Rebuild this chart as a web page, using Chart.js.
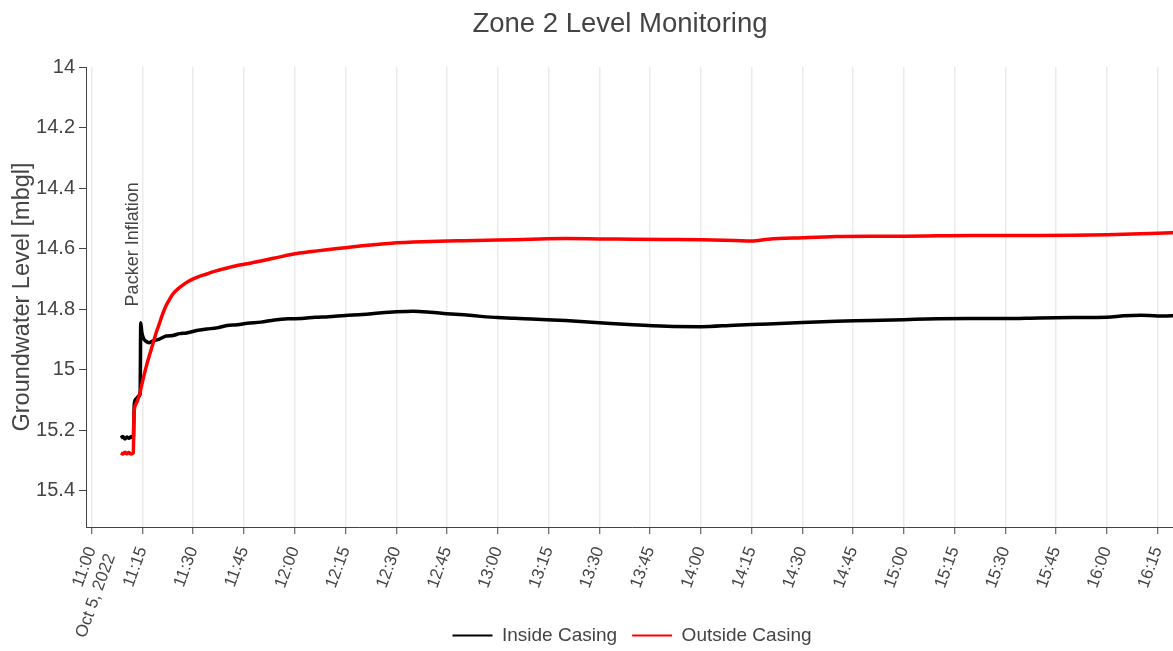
<!DOCTYPE html>
<html>
<head>
<meta charset="utf-8">
<script src="https://cdn.jsdelivr.net/npm/chart.js@4.4.1/dist/chart.umd.min.js"></script>
<style>
  html, body { margin: 0; padding: 0; background: #fff; overflow: hidden; }
  #wrap { width: 1173px; height: 651px; overflow: hidden; }
</style>
</head>
<body>
<div id="wrap"><canvas id="chart" width="1240" height="655"></canvas></div>
<script>
// time = minutes after 11:00 (Oct 5, 2022), level = mbgl
const insideTime = [8.6, 9.2, 9.8, 10.4, 11.0, 11.6, 12.3, 12.6, 13.2, 13.9, 14.3, 14.5, 14.8, 15.3, 16.0, 17.0, 18.0,
  20, 22, 24, 26, 28, 31, 34, 37, 40, 43, 46, 50, 54, 58, 62, 66, 70, 75, 80, 85, 90, 95, 100, 105, 110, 115, 120,
  125, 130, 140, 150, 160, 170, 180, 190, 200, 210, 220, 230, 240, 250, 260, 270, 280, 290, 300, 305, 310, 315, 321];
const insideLevel = [15.226, 15.221, 15.229, 15.223, 15.227, 15.222, 15.226, 15.112, 15.096, 15.087, 15.082, 14.845,
  14.876, 14.896, 14.906, 14.911, 14.906, 14.899, 14.889, 14.887, 14.881, 14.879, 14.871, 14.866, 14.862, 14.854,
  14.852, 14.847, 14.843, 14.836, 14.832, 14.831, 14.827, 14.825, 14.821, 14.818, 14.813, 14.809, 14.807, 14.810,
  14.815, 14.819, 14.824, 14.828, 14.830, 14.833, 14.838, 14.845, 14.852, 14.857, 14.858, 14.853, 14.849, 14.844,
  14.840, 14.838, 14.835, 14.832, 14.831, 14.831, 14.829, 14.828, 14.827, 14.822, 14.820, 14.823, 14.821];

const outsideTime = [8.6, 9.2, 9.8, 10.4, 11.0, 11.6, 12.3, 12.5, 12.9, 13.5, 14.3, 15.0, 16.0, 17.0, 18.0, 19.0, 20.0,
  21.0, 22.0, 23.0, 24.0, 25.5, 27.0, 28.5, 30.0, 32.0, 34.0, 36.0, 38.0, 40.0, 43.0, 46.0, 50.0, 55.0, 60.0, 65.0,
  70.0, 75.0, 80.0, 85.0, 90.0, 95.0, 100.0, 105.0, 110, 120, 130, 140, 150, 160, 170, 180, 190, 195, 200, 210, 220,
  230, 240, 250, 260, 270, 280, 290, 300, 310, 315, 321];
const outsideLevel = [15.276, 15.279, 15.273, 15.278, 15.274, 15.279, 15.275, 15.150, 15.118, 15.103, 15.075, 15.040,
  14.995, 14.955, 14.918, 14.880, 14.848, 14.815, 14.788, 14.768, 14.750, 14.733, 14.720, 14.709, 14.700, 14.691,
  14.684, 14.676, 14.670, 14.664, 14.656, 14.650, 14.641, 14.629, 14.617, 14.610, 14.603, 14.597, 14.591, 14.586,
  14.581, 14.578, 14.577, 14.575, 14.574, 14.572, 14.569, 14.567, 14.568, 14.569, 14.570, 14.571, 14.573, 14.575,
  14.569, 14.564, 14.560, 14.559, 14.559, 14.558, 14.557, 14.557, 14.557, 14.556, 14.554, 14.551, 14.549, 14.547];

const xTicks = [0, 15, 30, 45, 60, 75, 90, 105, 120, 135, 150, 165, 180, 195, 210, 225, 240, 255, 270, 285, 300, 315];
const xTickLabels = [['11:00', 'Oct 5, 2022'], '11:15', '11:30', '11:45', '12:00', '12:15', '12:30', '12:45',
  '13:00', '13:15', '13:30', '13:45', '14:00', '14:15', '14:30', '14:45', '15:00', '15:15', '15:30', '15:45',
  '16:00', '16:15'];
const yTicks = [14, 14.2, 14.4, 14.6, 14.8, 15, 15.2, 15.4];
const yTickLabels = ['14', '14.2', '14.4', '14.6', '14.8', '15', '15.2', '15.4'];

const annotText = 'Packer Inflation';
const annotX = 12.2;
const annotY = 14.791;

Chart.defaults.font.family = "'Liberation Sans', Arial, sans-serif";
Chart.defaults.color = '#444';

const annotPlugin = {
  id: 'annot',
  afterDatasetsDraw(chart) {
    const ctx = chart.ctx;
    const x = chart.scales.x.getPixelForValue(annotX);
    const y = chart.scales.y.getPixelForValue(annotY);
    ctx.save();
    ctx.translate(x, y);
    ctx.rotate(-Math.PI / 2);
    ctx.font = "18px 'Liberation Sans', Arial, sans-serif";
    ctx.fillStyle = '#444';
    ctx.textAlign = 'left';
    ctx.textBaseline = 'middle';
    ctx.fillText(annotText, 0, 0);
    ctx.restore();
  }
};

new Chart(document.getElementById('chart'), {
  type: 'line',
  plugins: [annotPlugin],
  data: {
    datasets: [{
      label: 'Inside Casing',
      data: insideTime.map((t, i) => ({ x: t, y: insideLevel[i] })),
      borderColor: '#000000',
      backgroundColor: '#000000',
      pointBorderColor: '#000000',
      borderWidth: 3.5,
      pointRadius: 0,
      cubicInterpolationMode: 'monotone',
      order: 1
    }, {
      label: 'Outside Casing',
      data: outsideTime.map((t, i) => ({ x: t, y: outsideLevel[i] })),
      borderColor: '#ff0000',
      backgroundColor: '#ff0000',
      pointBorderColor: '#ff0000',
      borderWidth: 3.5,
      pointRadius: 0,
      cubicInterpolationMode: 'monotone',
      order: 0
    }]
  },
  options: {
    responsive: false,
    animation: false,
    events: [],
    layout: { padding: 0 },
    plugins: {
      title: {
        display: true,
        text: 'Zone 2 Level Monitoring',
        font: { size: 27.5, weight: 'normal' },
        color: '#444',
        padding: { top: 8, bottom: 26 }
      },
      legend: {
        position: 'bottom',
        fullSize: false,
        labels: {
          usePointStyle: true,
          pointStyle: 'line',
          pointStyleWidth: 40,
          padding: 15,
          color: '#444',
          font: { size: 19 },
          sort: (a, b) => a.datasetIndex - b.datasetIndex,
          generateLabels(chart) {
            return Chart.defaults.plugins.legend.labels.generateLabels(chart).map(item => {
              const ds = chart.data.datasets[item.datasetIndex];
              item.strokeStyle = ds.borderColor;
              item.fillStyle = ds.borderColor;
              item.lineWidth = 2;
              return item;
            });
          }
        }
      },
      tooltip: { enabled: false }
    },
    scales: {
      x: {
        type: 'linear',
        min: -1.68,
        max: 321,
        afterBuildTicks(scale) { scale.ticks = xTicks.map(v => ({ value: v })); },
        afterFit(scale) {
          scale.height = 84;
          scale._computeLabelArea = () => undefined; // let the date line run past the axis box
        },
        ticks: {
          autoSkip: false,
          minRotation: 70,
          maxRotation: 70,
          padding: 10,
          color: '#444',
          font: { size: 17 },
          callback: (v, i) => xTickLabels[i]
        },
        grid: {
          color: '#ebebeb',
          lineWidth: 1.5,
          tickColor: '#444',
          tickLength: 7,
          tickWidth: 1
        },
        border: { color: '#444', width: 1 }
      },
      y: {
        type: 'linear',
        reverse: true,
        min: 14,
        max: 15.52,
        afterBuildTicks(scale) { scale.ticks = yTicks.map(v => ({ value: v })); },
        afterFit(scale) { scale.width = 86; },
        ticks: {
          padding: 4,
          color: '#444',
          font: { size: 20 },
          callback: (v, i) => yTickLabels[i]
        },
        grid: {
          drawOnChartArea: false,
          tickColor: '#444',
          tickLength: 7
        },
        border: { color: '#444', width: 1 },
        title: {
          display: true,
          text: 'Groundwater Level [mbgl]',
          color: '#444',
          font: { size: 23.5 },
          padding: { top: 8, bottom: 0 }
        }
      },
      yPad: {
        type: 'linear',
        position: 'right',
        display: true,
        afterFit(scale) { scale.width = 62; },
        ticks: { display: false },
        grid: { display: false },
        border: { display: false }
      }
    }
  }
});
</script>
</body>
</html>
